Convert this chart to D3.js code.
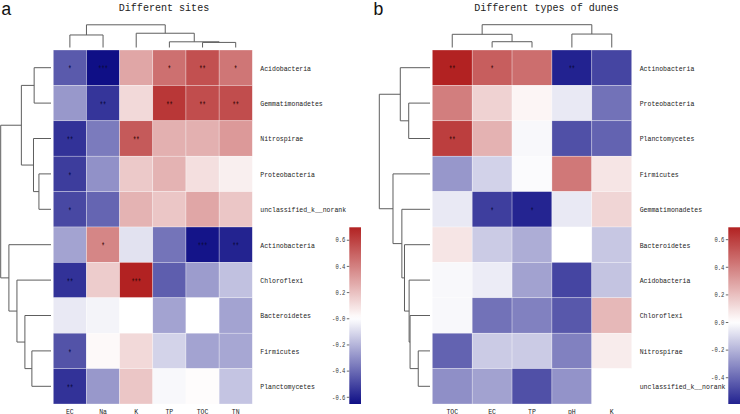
<!DOCTYPE html>
<html><head><meta charset="utf-8">
<script src="https://cdn.jsdelivr.net/npm/d3@7"></script>
<style>
html,body{margin:0;padding:0;background:#fff;}
svg{display:block;}
text{font-family:"Liberation Mono","DejaVu Sans Mono",monospace;}
</style></head>
<body>
<svg id="chart" width="740" height="414"></svg>
<script>
// ---------- DATA ----------
const leftTitle = "Different sites";
const rightTitle = "Different types of dunes";

const leftCols = ["EC","Na","K","TP","TOC","TN"];
const leftRows = ["Acidobacteria","Gemmatimonadetes","Nitrospirae","Proteobacteria","unclassified_k__norank",
  "Actinobacteria","Chloroflexi","Bacteroidetes","Firmicutes","Planctomycetes"];
const leftValues = [
  [-0.45,-0.655, 0.28, 0.45, 0.55, 0.43],
  [-0.28,-0.55, 0.12, 0.63, 0.56, 0.56],
  [-0.56,-0.36, 0.52, 0.25, 0.25, 0.32],
  [-0.53,-0.30, 0.17, 0.24, 0.10, 0.05],
  [-0.50,-0.42, 0.24, 0.18, 0.28, 0.18],
  [-0.25, 0.38,-0.08,-0.38,-0.64,-0.60],
  [-0.56, 0.16, 0.695,-0.44,-0.27,-0.17],
  [-0.06,-0.03, 0.00,-0.25, 0.00,-0.25],
  [-0.47, 0.02, 0.12,-0.12,-0.25,-0.24],
  [-0.56,-0.28, 0.18,-0.02, 0.01,-0.16]
];
const leftStars = [
  ["*","***","","*","**","*"],
  ["","**","","**","**","**"],
  ["**","","**","","",""],
  ["*","","","","",""],
  ["*","","","","",""],
  ["","*","","","***","**"],
  ["**","","***","","",""],
  ["","","","","",""],
  ["*","","","","",""],
  ["**","","","","",""]
];
// linkage: [childA, childB, height]  (leaves 0..n-1, merges n..)
const leftColLinkage = [[4,5,0.224],[3,6,0.251],[2,7,0.628],[0,1,0.552],[9,8,1.0]];
const leftRowLinkage = [[0,1,0.335],[3,4,0.240],[2,11,0.348],[10,12,0.589],[8,9,0.380],
  [7,14,0.519],[6,15,0.677],[5,16,0.837],[13,17,1.0]];
const leftTickValues = [0.6,0.4,0.2,0.0,-0.2,-0.4,-0.6];
const leftTickLabels = ["0.6","0.4","0.2","-0.0","-0.2","-0.4","-0.6"];

const rightCols = ["TOC","EC","TP","pH","K"];
const rightRows = ["Actinobacteria","Proteobacteria","Planctomycetes","Firmicutes","Gemmatimonadetes",
  "Bacteroidetes","Acidobacteria","Chloroflexi","Nitrospirae","unclassified_k__norank"];
const rightValues = [
  [ 0.686, 0.50, 0.45,-0.594,-0.50],
  [ 0.40, 0.14, 0.03,-0.06,-0.38],
  [ 0.60, 0.24,-0.02,-0.47,-0.42],
  [-0.28,-0.12,-0.01, 0.42, 0.08],
  [-0.06,-0.52,-0.59,-0.06, 0.13],
  [ 0.08,-0.14,-0.22, 0.00,-0.15],
  [-0.02,-0.05,-0.25,-0.50,-0.16],
  [-0.02,-0.38,-0.34,-0.45, 0.22],
  [-0.42,-0.14,-0.14,-0.34, 0.06],
  [-0.30,-0.25,-0.47,-0.29, 0.00]
];
const rightStars = [
  ["**","*","","**",""],
  ["","","","",""],
  ["**","","","",""],
  ["","","","",""],
  ["","*","*","",""],
  ["","","","",""],
  ["","","","",""],
  ["","","","",""],
  ["","","","",""],
  ["","","","",""]
];
const rightColLinkage = [[1,2,0.254],[0,5,0.579],[3,4,0.59],[6,7,1.0]];
const rightRowLinkage = [[1,2,0.420],[0,10,0.586],[8,9,0.232],[7,12,0.393],[6,13,0.412],
  [5,14,0.503],[4,15,0.555],[3,16,0.730],[11,17,1.0]];
const rightTickValues = [0.6,0.4,0.2,0.0,-0.2,-0.4];
const rightTickLabels = ["0.6","0.4","0.2","0.0","-0.2","-0.4"];

// ---------- DRAW ----------
const svg = d3.select("#chart");
const NAVY = "#00007f", RED = "#b22222";
const LINE = "#5e5e5e";

function dendroPaths(linkage, n, posOf) {
  const pos = [], h = [];
  for (let i = 0; i < n; i++) { pos[i] = posOf(i); h[i] = 0; }
  const segs = [];
  linkage.forEach((m, k) => {
    const [a, b, ht] = m;
    const id = n + k;
    pos[id] = (pos[a] + pos[b]) / 2; h[id] = ht;
    segs.push([[pos[a], h[a]], [pos[a], ht], [pos[b], ht], [pos[b], h[b]]]);
  });
  return segs;
}

function panel(cfg) {
  const g = svg.append("g");
  const x = d3.scaleBand().domain(d3.range(cfg.cols.length)).range([cfg.x0, cfg.x1]);
  const y = d3.scaleBand().domain(d3.range(cfg.rows.length)).range([cfg.y0, cfg.y1]);
  const flat = cfg.values.flat();
  const vmin = d3.min(flat), vmax = d3.max(flat);
  const r = Math.max(Math.abs(vmin), Math.abs(vmax));
  const color = d3.scaleLinear().domain([-r, 0, r]).range([NAVY, "#ffffff", RED]).interpolate(d3.interpolateRgb);

  // cells
  cfg.values.forEach((row, i) => row.forEach((v, j) => {
    g.append("rect").attr("x", x(j)).attr("y", y(i)).attr("width", x.bandwidth()).attr("height", y.bandwidth())
      .attr("fill", color(v)).attr("stroke", "#ffffff").attr("stroke-width", 0.5).attr("stroke-opacity", 0.6);
  }));
  cfg.values.forEach((row, i) => row.forEach((v, j) => {
    const s = cfg.stars[i][j];
    if (s) {
      g.append("text").attr("x", x(j) + x.bandwidth() / 2).attr("y", y(i) + y.bandwidth() / 2 + 4.6)
        .attr("text-anchor", "middle").attr("font-size", 8.5).attr("font-weight", "bold")
        .attr("fill", v < 0 ? "#0a0a40" : "#3a0808").attr("fill-opacity", 0.85)
        .attr("textLength", s.length * 3.2).attr("lengthAdjust", "spacingAndGlyphs").text(s);
    }
  }));

  // row labels
  cfg.rows.forEach((name, i) => {
    g.append("text").attr("x", cfg.x1 + 8).attr("y", y(i) + y.bandwidth() / 2 + 2.8)
      .attr("font-size", 8).attr("fill", "#222")
      .attr("textLength", name.length * 3.9).attr("lengthAdjust", "spacingAndGlyphs").text(name);
  });
  // col labels
  cfg.cols.forEach((name, j) => {
    g.append("text").attr("x", x(j) + x.bandwidth() / 2).attr("y", cfg.y1 + 9.5)
      .attr("text-anchor", "middle").attr("font-size", 8).attr("fill", "#222")
      .attr("textLength", name.length * 3.9).attr("lengthAdjust", "spacingAndGlyphs").text(name);
  });

  // column dendrogram
  const hc = d3.scaleLinear().domain([0, 1]).range([cfg.colLeafY, cfg.colRootY]);
  const line = d3.line();
  dendroPaths(cfg.colLinkage, cfg.cols.length, i => x(i) + x.bandwidth() / 2).forEach(seg => {
    g.append("path").attr("d", line(seg.map(p => [p[0], hc(p[1])])))
      .attr("fill", "none").attr("stroke", LINE).attr("stroke-width", 1);
  });
  // row dendrogram
  const hr = d3.scaleLinear().domain([0, 1]).range([cfg.rowLeafX, cfg.rowRootX]);
  dendroPaths(cfg.rowLinkage, cfg.rows.length, i => y(i) + y.bandwidth() / 2).forEach(seg => {
    g.append("path").attr("d", line(seg.map(p => [hr(p[1]), p[0]])))
      .attr("fill", "none").attr("stroke", LINE).attr("stroke-width", 1);
  });

  // colorbar
  const cb = d3.scaleLinear().domain([vmin, vmax]).range([cfg.cbY1, cfg.cbY0]);
  const gid = "grad" + cfg.id;
  const grad = svg.append("defs").append("linearGradient").attr("id", gid)
    .attr("x1", 0).attr("y1", 1).attr("x2", 0).attr("y2", 0);
  d3.range(0, 1.0001, 0.02).forEach(t => {
    grad.append("stop").attr("offset", t).attr("stop-color", color(vmin + t * (vmax - vmin)));
  });
  g.append("rect").attr("x", cfg.cbX).attr("y", cfg.cbY0).attr("width", cfg.cbW).attr("height", cfg.cbY1 - cfg.cbY0)
    .attr("fill", `url(#${gid})`);
  const axis = d3.axisLeft(cb).tickValues(cfg.tickValues)
    .tickFormat((d, i) => cfg.tickLabels[i]).tickSize(2.5).tickSizeOuter(0).tickPadding(1.5);
  const ag = g.append("g").attr("transform", `translate(${cfg.cbX},0)`).call(axis);
  ag.select(".domain").remove();
  ag.selectAll(".tick line").attr("stroke", "#444").attr("stroke-width", 0.8);
  ag.selectAll(".tick text").attr("font-size", 7).attr("fill", "#333")
    .attr("font-family", '"Liberation Mono","DejaVu Sans Mono",monospace')
    .each(function (d, i) { d3.select(this).attr("textLength", cfg.tickLabels[i].length * 3.3).attr("lengthAdjust", "spacingAndGlyphs"); });

  // title
  g.append("text").attr("x", cfg.titleX).attr("y", 11).attr("text-anchor", "middle")
    .attr("font-size", 11.5).attr("fill", "#222")
    .attr("textLength", cfg.title.length * 6.03).attr("lengthAdjust", "spacingAndGlyphs").text(cfg.title);
  // panel letter
  g.append("text").attr("x", cfg.letterX).attr("y", 15).attr("font-size", 18)
    .attr("font-family", '"Liberation Serif","DejaVu Serif",serif').attr("fill", "#111").text(cfg.letter);
}

panel({
  id: "L", letter: "a", letterX: 1, title: leftTitle, titleX: 164,
  cols: leftCols, rows: leftRows, values: leftValues, stars: leftStars,
  colLinkage: leftColLinkage, rowLinkage: leftRowLinkage,
  x0: 53.3, x1: 252.3, y0: 50, y1: 404,
  colLeafY: 47.5, colRootY: 24.8, rowLeafX: 51, rowRootX: 0.7,
  cbX: 349.3, cbW: 11.7, cbY0: 227.3, cbY1: 404,
  tickValues: leftTickValues, tickLabels: leftTickLabels
});
panel({
  id: "R", letter: "b", letterX: 373, title: rightTitle, titleX: 546.5,
  cols: rightCols, rows: rightRows, values: rightValues, stars: rightStars,
  colLinkage: rightColLinkage, rowLinkage: rightRowLinkage,
  x0: 432.3, x1: 631.7, y0: 50, y1: 404,
  colLeafY: 47.5, colRootY: 24.7, rowLeafX: 430, rowRootX: 379.3,
  cbX: 728.3, cbW: 12, cbY0: 227.3, cbY1: 404,
  tickValues: rightTickValues, tickLabels: rightTickLabels
});
</script>
</body></html>
